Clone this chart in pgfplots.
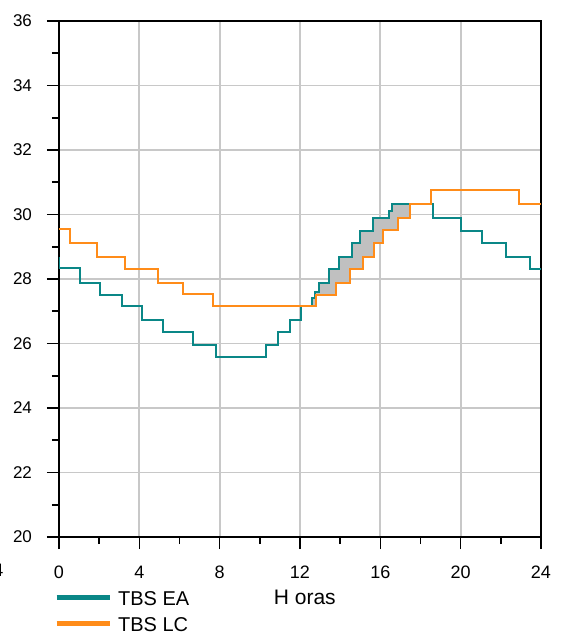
\documentclass[border=0pt]{standalone}
\usepackage{pgfplots}
\pgfplotsset{compat=1.18}
\usepackage{fontspec}
\setmainfont{Liberation Sans}
\definecolor{tealc}{RGB}{10,135,135}
\definecolor{orangec}{RGB}{255,140,25}
\definecolor{gridc}{RGB}{200,200,200}
\definecolor{fillc}{RGB}{192,192,192}
\begin{document}
\begin{tikzpicture}
\begin{axis}[
  at={(29.5pt,48.5pt)}, anchor=south west,
  scale only axis, width=241pt, height=258pt,
  xmin=0, xmax=24, ymin=20, ymax=36,
  xtick={0,4,...,24}, ytick={20,22,...,36},
  minor xtick={2,6,...,22}, minor ytick={21,23,...,35},
  tick align=outside, xtick pos=lower, ytick pos=left,
  major tick length=6pt, minor tick length=3.5pt,
  tick style={black, line width=0.8pt},
  axis line style={black, line width=1pt},
  grid=major, major grid style={gridc, line width=0.9pt},
  /pgf/number format/assume math mode=true,
  xticklabel style={font=\fontsize{9}{10}\selectfont, yshift=-5pt},
  yticklabel style={font=\fontsize{8.5}{10}\selectfont, xshift=-4pt},
  xlabel={H oras},
  xlabel style={font=\fontsize{10.5}{12}\selectfont, at={(axis description cs:0.51,-0.1163)}, anchor=center},
  legend cell align=left,
  legend image code/.code={\draw[line width=2.5pt] (0pt,2.5pt) -- (26.5pt,2.5pt);},
  legend style={at={(axis description cs:-0.01,-0.1008)}, anchor=north west,
    draw=none, fill=none, inner sep=0pt, outer sep=0pt,
    font=\fontsize{10}{12}\selectfont, row sep=0pt, column sep=3pt,
    nodes={inner sep=0pt, text height=8pt, text depth=5pt}},
]
% shaded area between TBS EA (above) and TBS LC (below)
\addplot[fill=fillc, draw=none, forget plot] coordinates {
(12.58,27.15)(12.58,27.4)(12.75,27.4)(12.75,27.6)(12.95,27.6)(12.95,27.89)(13.46,27.89)(13.46,28.3)
(13.96,28.3)(13.96,28.69)(14.58,28.69)(14.58,29.12)(15.0,29.12)(15.0,29.5)(15.65,29.5)(15.65,29.88)
(16.45,29.88)(16.45,30.1)(16.57,30.1)(16.57,30.33)(17.5,30.33)
(17.5,29.88)(16.86,29.88)(16.86,29.52)(16.15,29.52)(16.15,29.12)(15.66,29.12)(15.66,28.69)
(15.12,28.69)(15.12,28.3)(14.48,28.3)(14.48,27.89)(13.79,27.89)(13.79,27.5)(12.8,27.5)(12.8,27.15)
} -- cycle;
\addplot[tealc, line width=1pt] coordinates {
(0,28.69)(0,28.33)(1.03,28.33)(1.03,27.89)(2.04,27.89)(2.04,27.50)(3.12,27.50)(3.12,27.15)
(4.12,27.15)(4.12,26.73)(5.16,26.73)(5.16,26.35)(6.66,26.35)(6.66,25.95)(7.83,25.95)(7.83,25.57)
(10.32,25.57)(10.32,25.95)(10.92,25.95)(10.92,26.35)(11.5,26.35)(11.5,26.73)(12.05,26.73)(12.05,27.15)
(12.58,27.15)(12.58,27.4)(12.75,27.4)(12.75,27.6)(12.95,27.6)(12.95,27.89)(13.46,27.89)(13.46,28.3)
(13.96,28.3)(13.96,28.69)(14.58,28.69)(14.58,29.12)(15.0,29.12)(15.0,29.5)(15.65,29.5)(15.65,29.88)
(16.45,29.88)(16.45,30.1)(16.57,30.1)(16.57,30.33)(18.64,30.33)(18.64,29.88)(20.02,29.88)(20.02,29.5)
(21.08,29.5)(21.08,29.12)(22.27,29.12)(22.27,28.69)(23.47,28.69)(23.47,28.3)(24,28.3)
};
\addlegendentry{TBS EA}
\addplot[orangec, line width=1pt] coordinates {
(0,29.54)(0.55,29.54)(0.55,29.12)(1.91,29.12)(1.91,28.68)(3.29,28.68)(3.29,28.3)(4.95,28.3)
(4.95,27.89)(6.16,27.89)(6.16,27.53)(7.69,27.53)(7.69,27.15)(12.8,27.15)(12.8,27.5)(13.79,27.5)
(13.79,27.89)(14.48,27.89)(14.48,28.3)(15.12,28.3)(15.12,28.69)(15.66,28.69)(15.66,29.12)(16.15,29.12)
(16.15,29.52)(16.86,29.52)(16.86,29.88)(17.5,29.88)(17.5,30.33)(18.52,30.33)(18.52,30.75)(22.9,30.75)
(22.9,30.33)(24,30.33)
};
\addlegendentry{TBS LC}
\end{axis}
\node[font=\fontsize{9}{10}\selectfont] at (-0.85pt,31.75pt) {4};
\pgfresetboundingbox
\useasboundingbox (0,0) rectangle (282.5pt,317pt);
\end{tikzpicture}
\end{document}
